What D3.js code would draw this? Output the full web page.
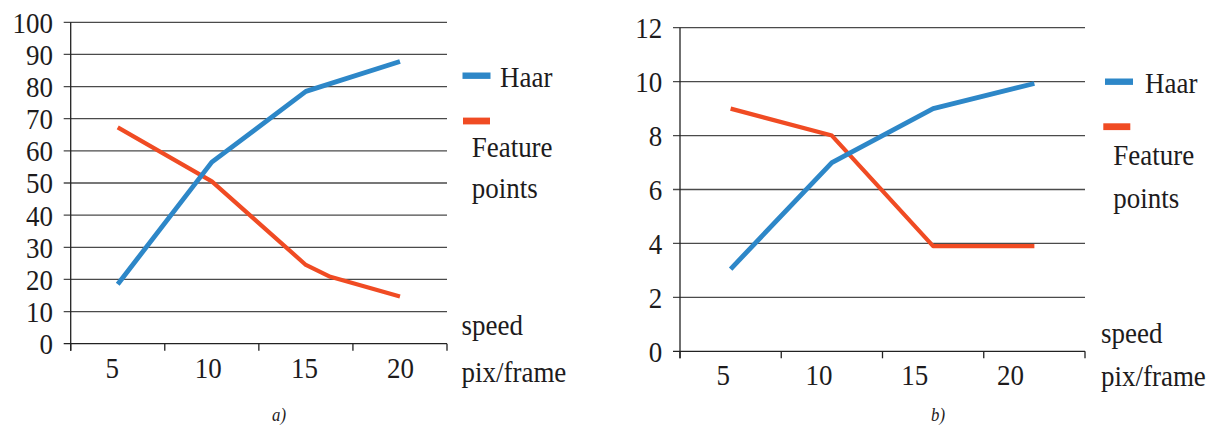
<!DOCTYPE html>
<html>
<head>
<meta charset="utf-8">
<script src="https://cdn.jsdelivr.net/npm/d3@7"></script>
<style>
  html, body { margin: 0; padding: 0; background: #fff; }
  svg { display: block; }
</style>
</head>
<body>
<svg id="chart" width="1217" height="428"></svg>
<script>
// ---------------- data ----------------
const categories = ["5", "10", "15", "20"];
const yTicksA = [0, 10, 20, 30, 40, 50, 60, 70, 80, 90, 100];
const yTicksB = [0, 2, 4, 6, 8, 10, 12];

const haarSpeedA = [5, 10, 15, 20];
const haarA = [18.5, 56.5, 78.5, 87.8];
const featSpeedA = [5, 10, 15, 16.3, 20];
const featA = [67.3, 50.5, 24.5, 20.8, 14.7];

const haarSpeedB = [5, 10, 15, 20];
const haarB = [3.05, 7.0, 9.0, 9.93];
const featSpeedB = [5, 10, 15, 20];
const featB = [9.0, 8.0, 3.9, 3.9];

const seriesNames = ["Haar", "Feature points"];
const axisTitle = ["speed", "pix/frame"];
const captions = ["a)", "b)"];

// ---------------- styles ----------------
const BLUE = "#2d87c8";
const RED = "#f04b23";
const GRID = "#4a4a4a";
const INK = "#1d1b1c";
const FONT = "Liberation Serif";
const SX = 0.93;     // horizontal condensing of the serif text
const FS = 29;

const svg = d3.select("#chart");

function styleText(sel, size, italic) {
  return sel
    .attr("font-family", FONT)
    .style("font-family", `"${FONT}"`)
    .attr("font-size", size)
    .style("font-size", size + "px")
    .style("font-style", italic ? "italic" : "normal")
    .attr("fill", INK);
}

function label(g, x, y, txt, anchor, size, italic) {
  const t = g.append("text")
    .attr("transform", `translate(${x},${y}) scale(${SX},1)`)
    .attr("text-anchor", anchor || "start")
    .text(txt);
  return styleText(t, size || FS, italic);
}

function drawChart(cfg) {
  const g = svg.append("g");

  const xBand = d3.scaleBand().domain(categories).range([cfg.x0, cfg.x1]).padding(0);
  const bw = xBand.bandwidth();
  const x = d3.scaleLinear().domain([5, 20])
    .range([xBand("5") + bw / 2, xBand("20") + bw / 2]);
  const y = d3.scaleLinear().domain([0, d3.max(cfg.yTicks)]).range([cfg.yBottom, cfg.yTop]);
  const xLab = d3.scalePoint().domain(categories).range(cfg.labelRange);

  // gridlines (with left tick stubs)
  g.append("g").selectAll("line").data(cfg.yTicks).join("line")
    .attr("x1", cfg.x0 - 7).attr("x2", cfg.x1)
    .attr("y1", d => y(d)).attr("y2", d => y(d))
    .attr("stroke", d => d === 0 ? "#222" : GRID)
    .attr("stroke-width", 1.3);

  // y axis labels
  const yAx = d3.axisLeft(y).tickValues(cfg.yTicks).tickSize(7).tickPadding(12)
    .tickFormat(d3.format("d"));
  const yg = g.append("g").attr("transform", `translate(${cfg.x0},0)`).call(yAx);
  yg.attr("font-family", FONT);
  yg.select(".domain").remove();
  yg.selectAll(".tick line").remove();
  styleText(yg.selectAll("text"), FS)
    .attr("dy", "0.34em")
    .attr("transform", `scale(${SX},1)`);

  // y axis line
  g.append("line")
    .attr("x1", cfg.x0).attr("x2", cfg.x0)
    .attr("y1", y(d3.max(cfg.yTicks))).attr("y2", cfg.yBottom + 7)
    .attr("stroke", "#222").attr("stroke-width", 1.3);

  // x tick marks at band boundaries
  const bounds = categories.map(c => xBand(c)).concat([cfg.x1]);
  g.append("g").selectAll("line").data(bounds).join("line")
    .attr("x1", d => d).attr("x2", d => d)
    .attr("y1", cfg.yBottom).attr("y2", cfg.yBottom + 7)
    .attr("stroke", "#222").attr("stroke-width", 1.3);

  // x labels
  const xAx = d3.axisBottom(xLab).tickSize(0).tickPadding(0);
  const xg = g.append("g").attr("transform", `translate(0,${cfg.xLabelBase})`).call(xAx);
  xg.attr("font-family", FONT);
  xg.select(".domain").remove();
  styleText(xg.selectAll("text"), FS)
    .attr("y", 0).attr("dy", 0)
    .attr("transform", `scale(${SX},1)`);

  // lines
  const line = d3.line().x(d => x(d[0])).y(d => y(d[1]));
  g.append("path")
    .datum(d3.zip(cfg.featSpeed, cfg.feat))
    .attr("d", line).attr("fill", "none")
    .attr("stroke", RED).attr("stroke-width", 4.2)
    .attr("stroke-linejoin", "round");
  g.append("path")
    .datum(d3.zip(cfg.haarSpeed, cfg.haar))
    .attr("d", line).attr("fill", "none")
    .attr("stroke", BLUE).attr("stroke-width", 4.8)
    .attr("stroke-linejoin", "round");

  // legend
  const L = cfg.legend;
  g.append("rect").attr("x", L.bx).attr("y", L.by - 3.2).attr("width", 28).attr("height", 6.4).attr("fill", BLUE);
  label(g, L.hx, L.hy, seriesNames[0]);
  g.append("rect").attr("x", L.rx).attr("y", L.ry - 3.4).attr("width", 27).attr("height", 6.8).attr("fill", RED);
  const parts = seriesNames[1].split(" ");
  label(g, L.fx, L.fy, parts[0]);
  label(g, L.fx, L.py, parts[1]);

  // axis title
  label(g, cfg.title.x, cfg.title.y1, axisTitle[0]);
  label(g, cfg.title.x, cfg.title.y2, axisTitle[1]);

  // caption
  label(g, cfg.caption.x, cfg.caption.y, cfg.caption.text, "middle", 18, true);
}

drawChart({
  x0: 70.7, x1: 447, yTop: 22.3, yBottom: 343.7,
  yTicks: yTicksA,
  labelRange: [111.7, 400], xLabelBase: 378,
  haarSpeed: haarSpeedA, haar: haarA, featSpeed: featSpeedA, feat: featA,
  legend: { bx: 462.5, by: 75.7, hx: 500, hy: 87.3, rx: 463, ry: 121, fx: 471.7, fy: 157.3, py: 198.3 },
  title: { x: 461.5, y1: 335, y2: 381.5 },
  caption: { x: 279, y: 421, text: captions[0] }
});

drawChart({
  x0: 680, x1: 1085, yTop: 27.7, yBottom: 351.3,
  yTicks: yTicksB,
  labelRange: [722.7, 1010], xLabelBase: 385,
  haarSpeed: haarSpeedB, haar: haarB, featSpeed: featSpeedB, feat: featB,
  legend: { bx: 1105, by: 81.7, hx: 1145, hy: 93.3, rx: 1103.3, ry: 126.7, fx: 1113.3, fy: 165, py: 208 },
  title: { x: 1101, y1: 343.3, y2: 386 },
  caption: { x: 938, y: 421, text: captions[1] }
});
</script>
</body>
</html>
